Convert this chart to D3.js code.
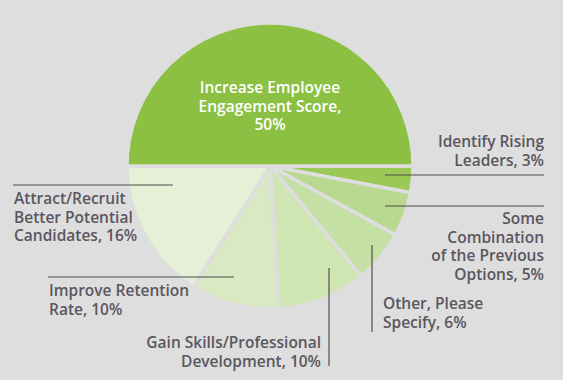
<!DOCTYPE html>
<html>
<head>
<meta charset="utf-8">
<script src="https://cdn.jsdelivr.net/npm/d3@7"></script>
<style>
  html, body { margin: 0; padding: 0; background: #dddedd; }
  svg text { font-family: "Open Sans", sans-serif; }
</style>
</head>
<body>
<div id="chart"></div>
<script>
// slices in clockwise order starting at 3 o'clock
const CATEGORIES = [
    "Identify Rising Leaders",
    "Some Combination of the Previous Options",
    "Other, Please Specify",
    "Gain Skills/Professional Development",
    "Improve Retention Rate",
    "Attract/Recruit Better Potential Candidates",
    "Increase Employee Engagement Score"
];
const VALUES = [3, 5, 6, 10, 10, 16, 50];
const COLORS = ["#9bc958", "#b8d98f", "#c4e0a4", "#cfe5b2", "#d9e9c3", "#e5f0d7", "#8cc043"];

// label text lines for each slice
const LABEL_LINES = [
    ["Identify Rising", "Leaders, 3%"],
    ["Some", "Combination", "of the Previous", "Options, 5%"],
    ["Other, Please", "Specify, 6%"],
    ["Gain Skills/Professional", "Development, 10%"],
    ["Improve Retention", "Rate, 10%"],
    ["Attract/Recruit", "Better Potential", "Candidates, 16%"],
    ["Increase Employee", "Engagement Score,", "50%"]
];

const width = 563;
const height = 380;
const cx = 270;
const cy = 166;
const radius = 143;
const lineH = 18.5;

const svg = d3.select("#chart").append("svg")
    .attr("width", width)
    .attr("height", height);

svg.append("rect").attr("width", width).attr("height", height).attr("fill", "#dddedd");

const pie = d3.pie()
    .value(d => d)
    .sort(null)
    .startAngle(Math.PI / 2)
    .endAngle(Math.PI * 2.5);

const arc = d3.arc().innerRadius(0).outerRadius(radius);

const g = svg.append("g").attr("transform", `translate(${cx},${cy})`);

g.selectAll("path.slice")
    .data(pie(VALUES))
    .join("path")
    .attr("class", "slice")
    .attr("d", arc)
    .attr("fill", (d, i) => COLORS[i])
    .attr("stroke", "#dddedd")
    .attr("stroke-width", 3.5)
    .attr("stroke-linejoin", "round");

// leader lines + label placement (hand-placed like the original)
const LEADERS = [
    { line: [[385, 175], [544, 175]], x: 544, y: 147, anchor: "end" },
    { line: [[385, 206], [544, 206]], x: 544, y: 224, anchor: "end" },
    { line: [[372, 245], [372, 332]], x: 383, y: 309, anchor: "start" },
    { line: [[329, 268], [329, 366]], x: 321, y: 348, anchor: "end" },
    { line: [[48, 277], [234, 277]], x: 49, y: 296, anchor: "start" },
    { line: [[13, 185], [173, 185]], x: 14, y: 204, anchor: "start" }
];

svg.selectAll("line.leader")
    .data(LEADERS)
    .join("line")
    .attr("class", "leader")
    .attr("x1", d => d.line[0][0])
    .attr("y1", d => d.line[0][1])
    .attr("x2", d => d.line[1][0])
    .attr("y2", d => d.line[1][1])
    .attr("stroke", "#4d4d4d")
    .attr("stroke-width", 1.2);

LEADERS.forEach((d, i) => {
    const t = svg.append("text")
        .attr("x", d.x)
        .attr("y", d.y)
        .attr("text-anchor", d.anchor)
        .attr("fill", "#5b5660")
        .attr("font-size", 15.5)
        .attr("font-weight", 600);
    LABEL_LINES[i].forEach((s, j) => {
        t.append("tspan").attr("x", d.x).attr("y", d.y + j * lineH).text(s);
    });
});

// big slice label inside
const big = svg.append("text")
    .attr("text-anchor", "middle")
    .attr("fill", "#ffffff")
    .attr("font-size", 15.5)
    .attr("font-weight", 600);
LABEL_LINES[6].forEach((s, j) => {
    big.append("tspan").attr("x", cx).attr("y", 93 + j * lineH).text(s);
});
</script>
</body>
</html>
